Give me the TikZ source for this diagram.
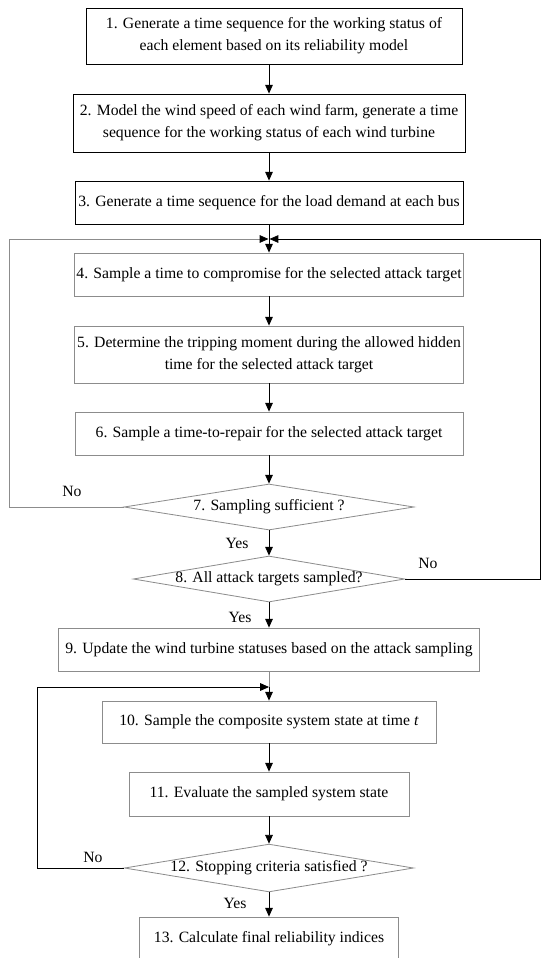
\documentclass[tikz,border=0pt]{standalone}
\usepackage{fontspec}
\setmainfont{Liberation Serif}
\usetikzlibrary{shapes.geometric, arrows.meta, positioning}
\tikzset{
    flow/.style={font=\fontsize{13.4}{19}\selectfont, x=0.03cm, y=-0.03cm},
    flow box/.style={draw, align=center, line width=0.7pt, inner sep=2pt,
        minimum width=11.64cm, minimum height=1.29cm},
    flow step/.style={flow box, draw=black!45},
    flow decision/.style={diamond, aspect=5.9, draw=black!45, line width=0.7pt,
        inner sep=0pt, minimum height=1.38cm},
    flow arrow/.style={-{Triangle[length=7.5pt, width=6.5pt, color=black]}, line width=0.7pt},
    flow line/.style={line width=0.7pt},
    flow label/.style={inner sep=1pt},
}

\begin{document}
\begin{tikzpicture}[flow]
            \useasboundingbox (0,0) rectangle (541,958);
            \node[flow box, minimum width=11.28cm, minimum height=1.68cm]
                (generate) at (274,36) {1. Generate a time sequence for the working status of\\each element based on its reliability model};
            \node[flow box, minimum width=11.76cm, minimum height=1.74cm]
                (wind) at (269,123) {2. Model the wind speed of each wind farm, generate a time\\sequence for the working status of each wind turbine};
            \node[flow box]
                (load) at (269,202.5) {3. Generate a time sequence for the load demand at each bus};
            \node[flow step]
                (compromise) at (269,274.5) {4. Sample a time to compromise for the selected attack target};
            \node[flow step, minimum height=1.71cm]
                (tripping) at (269,354.5) {5. Determine the tripping moment during the allowed hidden\\time for the selected attack target};
            \node[flow step]
                (repair) at (269,433.5) {6. Sample a time-to-repair for the selected attack target};
            \node[flow decision, minimum width=8.7cm]
                (sufficient) at (269,507) {7. Sampling sufficient ?};
            \node[flow decision, minimum width=8.1cm]
                (targets) at (269,579) {8. All attack targets sampled?};
            \node[flow step, minimum width=12.63cm]
                (update) at (269,649.5) {9. Update the wind turbine statuses based on the attack sampling};
            \node[flow step, minimum width=10.02cm, minimum height=1.26cm]
                (state) at (269,722) {10. Sample the composite system state at time \textit{t}};
            \node[flow step, minimum width=8.4cm, minimum height=1.32cm]
                (evaluate) at (269,794) {11. Evaluate the sampled system state};
            \node[flow decision, minimum width=8.67cm]
                (stopping) at (269,868) {12. Stopping criteria satisfied ?};
            \node[flow step, minimum width=7.77cm, minimum height=1.32cm]
                (indices) at (269,939) {13. Calculate final reliability indices};
            % loop junctions and rails
            \coordinate (attack loop) at (269,239);
            \coordinate (left rail) at (9,239);
            \coordinate (right rail) at (540,239);
            \coordinate (sim loop) at (269,687);
            \coordinate (lower rail) at (37,687);
            % main flow
            \draw[flow arrow] (wind.north |- generate.south) -- (wind.north);
            \draw[flow arrow] (wind) -- (load);
            \draw[flow arrow] (load) -- (compromise);
            \draw[flow arrow] (compromise) -- (tripping);
            \draw[flow arrow] (tripping) -- (repair);
            \draw[flow arrow] (repair) -- (sufficient);
            \draw[flow arrow] (sufficient) -- (targets);
            \draw[flow arrow] (targets) -- (update);
            \draw[flow line, black!45] (update) -- (sim loop);
            \draw[flow arrow] (sim loop) -- (state);
            \draw[flow arrow] (state) -- (evaluate);
            \draw[flow arrow] (evaluate) -- (stopping);
            \draw[flow arrow] (stopping) -- (indices);
            % feedback loops
            \draw[flow arrow, black!45] (sufficient.west) -| (left rail) -- ([xshift=-0.5pt]attack loop);
            \draw[flow arrow] (targets.east) -| (right rail) -- ([xshift=0.5pt]attack loop);
            \draw[flow arrow] (stopping.west) -| (lower rail) -- (sim loop);
            % labels
            \node[flow label] (no sufficient) at (72,491) {No};
            \node[flow label] (yes sufficient) at (237,543) {Yes};
            \node[flow label] (no targets) at (428,563) {No};
            \node[flow label] (yes targets) at (240,617) {Yes};
            \node[flow label] (no stopping) at (93,857) {No};
            \node[flow label] (yes stopping) at (235,903) {Yes};
        \end{tikzpicture}
\end{document}
